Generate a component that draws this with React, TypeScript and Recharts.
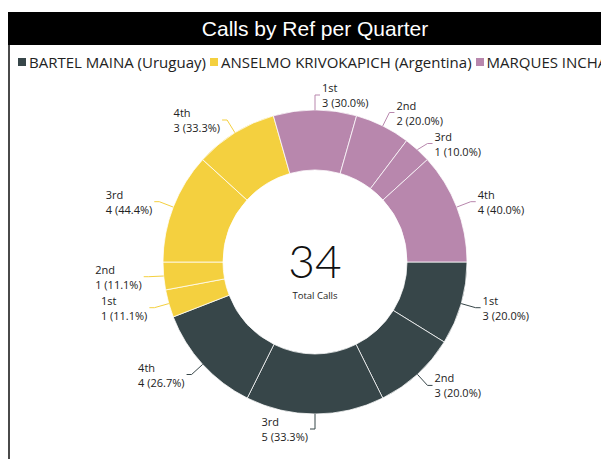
import React from 'react';
import { PieChart, Pie, Cell } from 'recharts';

const chartTitle = 'Calls by Ref per Quarter';
const refNames = ['BARTEL MAINA (Uruguay)', 'ANSELMO KRIVOKAPICH (Argentina)', 'MARQUES INCHAUSTI'];
const quarters = ['1st', '2nd', '3rd', '4th'];
const bartelCalls = [3, 3, 5, 4];
const anselmoCalls = [1, 1, 4, 3];
const marquesCalls = [3, 2, 1, 4];
const refColors = ['#374649', '#F4D03F', '#B887AD'];
const centerCaption = 'Total Calls';

const seriesValues = [bartelCalls, anselmoCalls, marquesCalls];

const data = refNames.flatMap((ref, r) => {
  const tot = seriesValues[r].reduce((a, b) => a + b, 0);
  return quarters.map((q, i) => ({
    name: `${ref} ${q}`,
    quarter: q,
    value: seriesValues[r][i],
    pct: ((seriesValues[r][i] / tot) * 100).toFixed(1),
    color: refColors[r],
  }));
});

const total = data.reduce((a, d) => a + d.value, 0);

const LABEL_FONT = 'Open Sans';
const LABEL_SIZE = 11;
const LABEL_GAP = 31;
const RAD = Math.PI / 180;

let ctx: CanvasRenderingContext2D | null = null;
const measure = (s: string) => {
  if (!ctx) {
    const c = document.createElement('canvas');
    ctx = c.getContext('2d');
  }
  if (!ctx) return s.length * 6;
  ctx.font = `${LABEL_SIZE}px "${LABEL_FONT}"`;
  return ctx.measureText(s).width;
};

const placed: { right: boolean; ey: number; x0: number; x1: number }[] = [];

const renderLabel = (props: any) => {
  const { cx, cy, midAngle, outerRadius, index } = props;
  const d = data[index];
  const c = Math.cos(-midAngle * RAD);
  const s = Math.sin(-midAngle * RAD);
  const sx = cx + outerRadius * c;
  const sy = cy + outerRadius * s;
  const mx = cx + (outerRadius + 15) * c;
  let my = cy + (outerRadius + 15) * s;
  let right: boolean;
  if (c > 1e-6) right = true;
  else if (c < -1e-6) right = false;
  else right = s < 0;
  const ex = mx + (right ? 5 : -5);
  const line1 = d.quarter;
  const line2 = `${d.value} (${d.pct}%)`;
  const w = Math.max(measure(line1), measure(line2));
  const tx = right ? ex + 2 : ex - 2 - w;
  const prev = index > 0 ? placed[index - 1] : undefined;
  if (prev && prev.right === right && tx < prev.x1 && tx + w > prev.x0) {
    if (right && my < prev.ey + LABEL_GAP) my = prev.ey + LABEL_GAP;
    if (!right && my > prev.ey - LABEL_GAP) my = prev.ey - LABEL_GAP;
  }
  placed[index] = { right, ey: my, x0: tx, x1: tx + w };
  const ey = my;
  return (
    <g key={`lbl-${index}`}>
      <path d={`M${sx},${sy}L${mx},${my}L${ex},${ey}`} stroke={d.color} strokeWidth={1} fill="none" />
      <text x={tx} y={ey - 7.5} dominantBaseline="central" textAnchor="start" fontFamily={LABEL_FONT} fontSize={LABEL_SIZE} fill="#222">
        {line1}
      </text>
      <text x={tx} y={ey + 7.5} dominantBaseline="central" textAnchor="start" fontFamily={LABEL_FONT} fontSize={LABEL_SIZE} fill="#222">
        {line2}
      </text>
    </g>
  );
};

export default function App() {
  return (
    <div style={{ position: 'relative', width: 601, height: 451, overflow: 'hidden', background: '#fff' }}>
      <div style={{ position: 'absolute', left: 0, top: 4, width: 2, height: 447, background: '#4a4a4a' }} />
      <div
        style={{
          position: 'absolute', left: 0, top: 4, width: 601, height: 33, boxSizing: 'border-box', paddingLeft: 13,
          background: '#000', color: '#fff', fontFamily: '"Liberation Sans", Arial, sans-serif', fontSize: 21,
          lineHeight: '33px', textAlign: 'center',
        }}
      >
        {chartTitle}
      </div>
      <div
        style={{
          position: 'absolute', left: 10, top: 46, height: 16, lineHeight: '16px', display: 'flex', alignItems: 'center',
          whiteSpace: 'nowrap', fontFamily: LABEL_FONT, fontSize: 15, color: '#222',
        }}
      >
        {refNames.map((n, i) => (
          <div key={n} style={{ display: 'flex', alignItems: 'center', marginRight: 4 }}>
            <span style={{ display: 'inline-block', width: 8, height: 8, background: refColors[i], marginRight: 3 }} />
            <span>{n}</span>
          </div>
        ))}
      </div>
      <div style={{ position: 'absolute', left: 0, top: 67 }}>
        <PieChart width={601} height={384} margin={{ top: 0, right: 0, bottom: 0, left: 0 }}>
          <Pie
            data={data}
            dataKey="value"
            nameKey="name"
            cx={307}
            cy={187}
            innerRadius={92}
            outerRadius={152}
            startAngle={0}
            endAngle={-360}
            stroke="rgba(255,255,255,0.75)"
            strokeWidth={1}
            label={renderLabel}
            labelLine={false}
            isAnimationActive={false}
          >
            {data.map((d) => (
              <Cell key={d.name} fill={d.color} />
            ))}
          </Pie>
        </PieChart>
      </div>
      <div
        style={{
          position: 'absolute', left: 307 - 60, top: 254 - 30, width: 120, height: 80, textAlign: 'center',
          pointerEvents: 'none',
        }}
      >
        <div style={{ fontFamily: 'Lato', fontWeight: 300, fontSize: 46, lineHeight: '45px', color: '#111', marginTop: 6 }}>
          {total}
        </div>
        <div style={{ fontFamily: LABEL_FONT, fontSize: 9.5, lineHeight: '12px', color: '#222', marginTop: 7 }}>
          {centerCaption}
        </div>
      </div>
    </div>
  );
}
